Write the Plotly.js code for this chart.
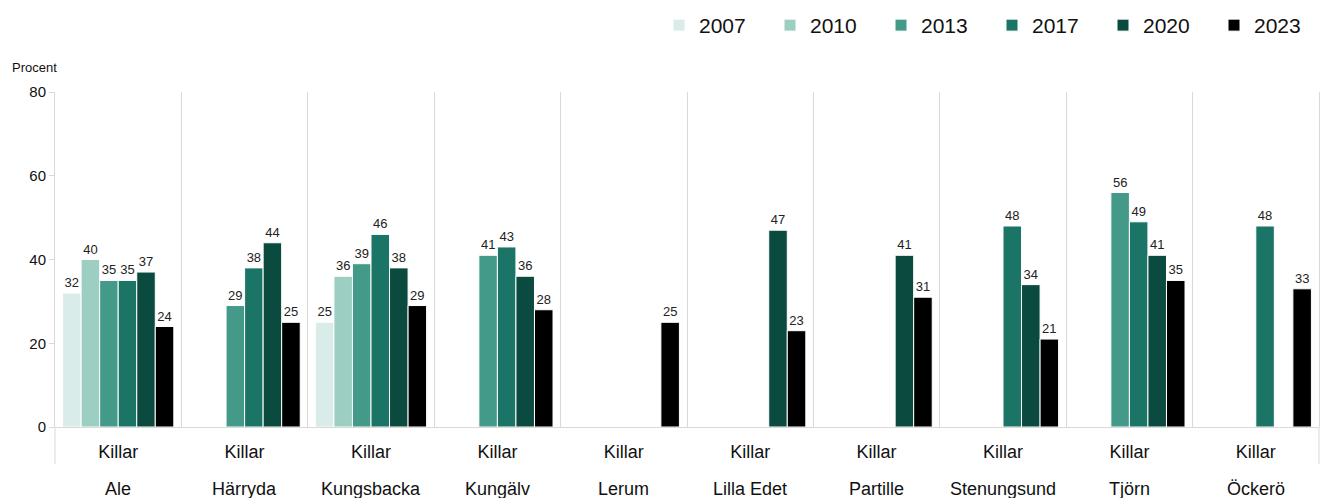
<!DOCTYPE html>
<html>
<head>
<meta charset="utf-8">
<script src="https://cdn.plot.ly/plotly-3.0.1.min.js"></script>
<style>html,body{margin:0;padding:0;background:#fff;}#chart{width:1325px;height:498px;}</style>
</head>
<body>
<div id="chart"></div>
<script>
const groups = ["Ale","Härryda","Kungsbacka","Kungälv","Lerum","Lilla Edet","Partille","Stenungsund","Tjörn","Öckerö"];
const subLabel = "Killar";
const years = ["2007","2010","2013","2017","2020","2023"];
const v2007 = [32, null, 25, null, null, null, null, null, null, null];
const v2010 = [40, null, 36, null, null, null, null, null, null, null];
const v2013 = [35, 29, 39, 41, null, null, null, null, 56, null];
const v2017 = [35, 38, 46, 43, null, null, null, 48, 49, 48];
const v2020 = [37, 44, 38, 36, null, 47, 41, 34, 41, null];
const v2023 = [24, 25, 29, 28, 25, 23, 31, 21, 35, 33];
const colors = ["#d9ecea","#9dcec2","#449a88","#1b7566","#0b4a3e","#000000"];

const series = [v2007, v2010, v2013, v2017, v2020, v2023];
const FONT = "Liberation Sans, Arial, sans-serif";

const traces = series.map((vals, i) => ({
  type: "bar",
  name: years[i],
  x: groups,
  y: vals,
  marker: {color: colors[i], line: {color: "#ffffff", width: 1}},
  text: vals.map(v => v === null ? "" : String(v)),
  textposition: "outside",
  constraintext: "none",
  cliponaxis: false,
  textfont: {family: FONT, size: 13, color: "#222"},
  hoverinfo: "x+y+name"
}));

const annotations = groups.map(g => ({
  x: g, xref: "x", y: 0, yref: "paper",
  yshift: -62, yanchor: "middle", xanchor: "center",
  text: g, showarrow: false,
  font: {family: FONT, size: 18, color: "#111"}
}));
annotations.push({
  x: 0, xref: "paper", xanchor: "left", xshift: -45,
  y: 1, yref: "paper", yanchor: "middle", yshift: 25,
  text: "Procent", showarrow: false,
  font: {family: FONT, size: 13, color: "#111"}
});

const layout = {
  width: 1325, height: 498,
  margin: {l: 55, r: 6, t: 92, b: 71},
  paper_bgcolor: "#fff", plot_bgcolor: "#fff",
  font: {family: FONT, color: "#111"},
  barmode: "group",
  bargap: 0.12,
  bargroupgap: 0,
  showlegend: true,
  legend: {
    orientation: "h", x: 1.029, xanchor: "right", y: 0.99, yanchor: "top",
    yref: "container", xref: "paper",
    font: {family: FONT, size: 21, color: "#111"},
    traceorder: "normal",
    itemwidth: 30,
    entrywidth: 66, entrywidthmode: "pixels"
  },
  xaxis: {
    type: "category",
    categoryorder: "array", categoryarray: groups,
    tickvals: groups,
    ticktext: groups.map(() => subLabel),
    tickson: "boundaries",
    ticks: "",
    showgrid: true, gridcolor: "#d9d9d9", gridwidth: 1,
    showline: false, zeroline: false,
    ticklabelstandoff: 12,
    tickfont: {family: FONT, size: 18, color: "#111"}
  },
  yaxis: {
    range: [0, 80], tickvals: [0, 20, 40, 60, 80],
    showgrid: false, zeroline: true, zerolinecolor: "#d9d9d9", zerolinewidth: 1,
    showline: true, linecolor: "#d9d9d9", linewidth: 1, mirror: true,
    ticks: "outside", ticklen: 5, tickcolor: "#d9d9d9",
    tickfont: {family: FONT, size: 15, color: "#111"}
  },
  shapes: [
    {type: "line", xref: "paper", yref: "paper", x0: 0, x1: 0, y0: 0, y1: -0.11, line: {color: "#d9d9d9", width: 1}},
    {type: "line", xref: "paper", yref: "paper", x0: 1, x1: 1, y0: 0, y1: -0.11, line: {color: "#d9d9d9", width: 1}}
  ],
  annotations: annotations
};

Plotly.newPlot("chart", traces, layout, {displayModeBar: false, staticPlot: true});
</script>
</body>
</html>
